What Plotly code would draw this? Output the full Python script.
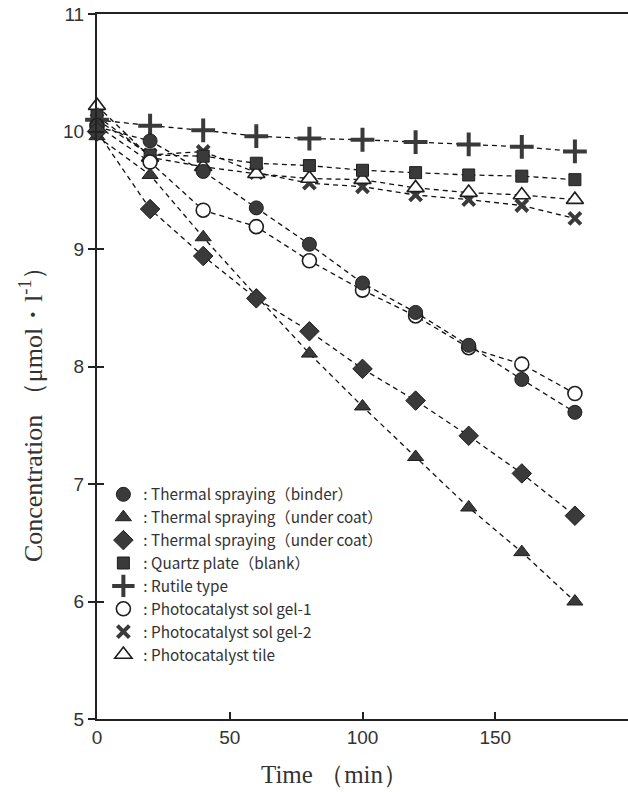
import plotly.graph_objects as go

# ---- data ----
time_min = [0, 20, 40, 60, 80, 100, 120, 140, 160, 180]
binder = [10.04, 9.92, 9.66, 9.35, 9.04, 8.71, 8.46, 8.18, 7.89, 7.61]
under_coat_a = [9.96, 9.63, 9.10, 8.60, 8.11, 7.66, 7.23, 6.80, 6.42, 6.00]
under_coat_b = [10.00, 9.34, 8.94, 8.58, 8.30, 7.98, 7.71, 7.41, 7.09, 6.73]
quartz = [10.13, 9.80, 9.79, 9.73, 9.71, 9.67, 9.65, 9.63, 9.62, 9.59]
rutile = [10.10, 10.05, 10.01, 9.96, 9.94, 9.93, 9.91, 9.89, 9.87, 9.83]
solgel1 = [10.05, 9.74, 9.33, 9.19, 8.90, 8.65, 8.43, 8.16, 8.02, 7.77]
solgel2 = [10.10, 9.80, 9.83, 9.65, 9.56, 9.53, 9.46, 9.42, 9.37, 9.26]
tile = [10.22, 9.78, 9.70, 9.64, 9.60, 9.59, 9.52, 9.48, 9.46, 9.42]

legend_labels = [
    ": Thermal spraying（binder）",
    ": Thermal spraying（under coat）",
    ": Thermal spraying（under coat）",
    ": Quartz plate（blank）",
    ": Rutile type",
    ": Photocatalyst sol gel-1",
    ": Photocatalyst sol gel-2",
    ": Photocatalyst tile",
]
x_ticks = [0, 50, 100, 150]
y_ticks = [5, 6, 7, 8, 9, 10, 11]

DARK = "#3a3a3a"
EDGE = "#1e1e1e"
DASH = "5px,4px"

styles = {
    "binder": dict(symbol="circle", size=14, color=DARK, line=dict(color=EDGE, width=1)),
    "uca": dict(symbol="triangle-up", size=14, color=DARK, line=dict(color=EDGE, width=1)),
    "ucb": dict(symbol="diamond", size=15, color=DARK, line=dict(color=EDGE, width=1)),
    "quartz": dict(symbol="square", size=12, color=DARK, line=dict(color=EDGE, width=1)),
    "rutile": dict(symbol="cross-thin", size=17, color=DARK, line=dict(color=DARK, width=4)),
    "sg1": dict(symbol="circle", size=14, color="white", line=dict(color=EDGE, width=1.6)),
    "sg2": dict(symbol="x-thin", size=12, color=DARK, line=dict(color=DARK, width=4)),
    "tile": dict(symbol="triangle-up", size=15, color="white", line=dict(color=EDGE, width=1.6)),
}

series = {
    "binder": binder, "uca": under_coat_a, "ucb": under_coat_b, "quartz": quartz,
    "rutile": rutile, "sg1": solgel1, "sg2": solgel2, "tile": tile,
}
legend_order = ["binder", "uca", "ucb", "quartz", "rutile", "sg1", "sg2", "tile"]
draw_order = ["sg2", "tile", "quartz", "rutile", "sg1", "binder", "uca", "ucb"]

fig = go.Figure()
for key in draw_order:
    fig.add_trace(go.Scatter(
        x=time_min, y=series[key], mode="lines+markers",
        line=dict(color="#111111", width=1.3, dash=DASH),
        marker=styles[key], showlegend=False, cliponaxis=False,
    ))

for key, lab in zip(legend_order, legend_labels):
    fig.add_trace(go.Scatter(
        x=[None], y=[None], mode="markers", marker=styles[key], name=lab,
        legendgroup=key, showlegend=True,
    ))

fig.update_layout(
    width=628, height=792,
    margin=dict(l=97, r=0, t=14, b=73),
    paper_bgcolor="white", plot_bgcolor="white",
    font=dict(family="Liberation Sans, Arial, sans-serif", color="#333333"),
    legend=dict(
        x=0.012, y=0.342, xanchor="left", yanchor="top",
        bgcolor="rgba(0,0,0,0)", borderwidth=0,
        font=dict(family="Noto Sans CJK JP, Liberation Sans, sans-serif", size=15.3, color="#333333"),
        tracegroupgap=0, itemwidth=30,
    ),
    xaxis=dict(
        range=[0, 200], tickvals=x_ticks, ticktext=[str(v) for v in x_ticks],
        ticks="inside", ticklen=7, tickwidth=1.5, tickcolor="#222",
        showline=True, linecolor="#222", linewidth=2, mirror=True,
        showgrid=False, zeroline=False,
        tickfont=dict(size=19, color="#333"),
    ),
    yaxis=dict(
        range=[5, 11], tickvals=y_ticks, ticktext=[str(v) for v in y_ticks],
        ticks="outside", ticklen=7, tickwidth=1.5, tickcolor="#222",
        showline=True, linecolor="#222", linewidth=2, mirror=False,
        showgrid=False, zeroline=False,
        tickfont=dict(size=19, color="#333"),
    ),
    yaxis2=dict(
        range=[5, 11], tickvals=y_ticks, overlaying="y", side="left",
        ticks="inside", ticklen=7, tickwidth=1.5, tickcolor="#222",
        showticklabels=False, showline=False, showgrid=False, zeroline=False,
    ),
    annotations=[
        dict(text="Concentration （μmol・l<sup>-1</sup>）", xref="paper", yref="paper",
             x=-0.123, y=0.442, xanchor="center", yanchor="middle", textangle=-90,
             showarrow=False,
             font=dict(family="Liberation Serif, serif", size=26, color="#333")),
        dict(text="Time （min）", xref="paper", yref="paper",
             x=0.448, y=-0.079, xanchor="center", yanchor="middle",
             showarrow=False,
             font=dict(family="Liberation Serif, serif", size=25, color="#333")),
    ],
)
# dummy trace to activate the second y axis (inside ticks)
fig.add_trace(go.Scatter(x=[None], y=[None], yaxis="y2", showlegend=False, hoverinfo="skip"))

fig.write_html("out.html")
